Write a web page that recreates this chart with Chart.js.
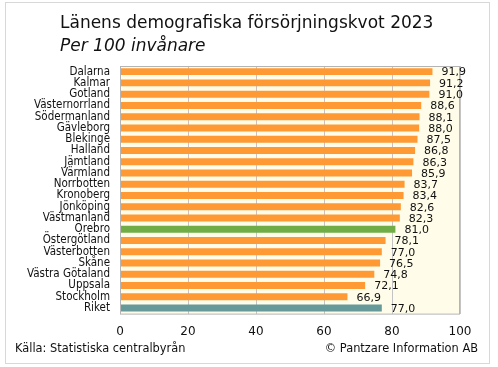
<!DOCTYPE html>
<html>
<head>
<meta charset="utf-8">
<script src="https://cdn.jsdelivr.net/npm/chart.js@4"></script>
<style>
    body { margin: 0; background: #fff; }
    #frame {
        position: absolute; left: 5px; top: 2px; width: 485px; height: 362px;
        border: 1px solid #d8d8d8; box-sizing: border-box;
    }
    .txt { position: absolute; font-family: "DejaVu Sans", Verdana, sans-serif; color: #111; white-space: nowrap; }
    #title { left: 60px; top: 12px; font-size: 17px; }
    #subtitle { left: 60px; top: 35px; font-size: 17px; font-style: italic; }
    #source { left: 15px; top: 341px; font-size: 11.4px; }
    #copy { right: 20px; top: 341px; font-size: 11.4px; }
    #wrap { position: absolute; left: 0; top: 0; width: 498px; height: 367px; }
</style>
</head>
<body>
<div id="frame"></div>
<div id="wrap"><canvas id="chart"></canvas></div>
<div class="txt" id="title">Länens demografiska försörjningskvot 2023</div>
<div class="txt" id="subtitle">Per 100 invånare</div>
<div class="txt" id="source">Källa: Statistiska centralbyrån</div>
<div class="txt" id="copy">© Pantzare Information AB</div>
<script>
// Chart data
const regions = ["Dalarna", "Kalmar", "Gotland", "Västernorrland", "Södermanland", "Gävleborg",
    "Blekinge", "Halland", "Jämtland", "Värmland", "Norrbotten", "Kronoberg", "Jönköping",
    "Västmanland", "Örebro", "Östergötland", "Västerbotten", "Skåne", "Västra Götaland",
    "Uppsala", "Stockholm", "Riket"];
const ratios = [91.9, 91.2, 91.0, 88.6, 88.1, 88.0, 87.5, 86.8, 86.3, 85.9, 83.7, 83.4, 82.6,
    82.3, 81.0, 78.1, 77.0, 76.5, 74.8, 72.1, 66.9, 77.0];
const xTicks = [0, 20, 40, 60, 80, 100];

const ORANGE = "#ff9933";
const GREEN = "#70ad47";
const TEAL = "#669999";

const barColors = regions.map(r => r === "Örebro" ? GREEN : r === "Riket" ? TEAL : ORANGE);

// Cream plot background + border
const plotBg = {
    id: "plotBg",
    beforeDraw(chart) {
        const { ctx, chartArea: a } = chart;
        ctx.save();
        ctx.fillStyle = "#fffde9";
        ctx.fillRect(a.left, a.top, a.right - a.left, a.bottom - a.top);
        ctx.restore();
    },
    afterDatasetsDraw(chart) {
        const { ctx, chartArea: a } = chart;
        ctx.save();
        ctx.strokeStyle = "#b4b4b4";
        ctx.lineWidth = 1;
        ctx.strokeRect(a.left + 0.5, a.top + 0.5, a.right - a.left - 1, a.bottom - a.top);
        ctx.restore();
    }
};

// Value labels after each bar, Swedish decimal comma
const valueLabels = {
    id: "valueLabels",
    afterDatasetsDraw(chart) {
        const { ctx } = chart;
        const meta = chart.getDatasetMeta(0);
        ctx.save();
        ctx.font = "11px 'DejaVu Sans', Verdana, sans-serif";
        ctx.fillStyle = "#111";
        ctx.textBaseline = "middle";
        ctx.textAlign = "left";
        meta.data.forEach((bar, i) => {
            ctx.fillText(ratios[i].toFixed(1).replace(".", ","), bar.x + 9, bar.y + 1);
        });
        ctx.restore();
    }
};

new Chart(document.getElementById("chart"), {
    type: "bar",
    data: {
        labels: regions,
        datasets: [{
            data: ratios,
            backgroundColor: barColors,
            barPercentage: 0.62,
            categoryPercentage: 1.0
        }]
    },
    options: {
        indexAxis: "y",
        responsive: true,
        maintainAspectRatio: false,
        animation: false,
        layout: { padding: { top: 66, right: 38, bottom: 17, left: 0 } },
        plugins: {
            legend: { display: false },
            tooltip: { enabled: false }
        },
        scales: {
            x: {
                min: 0,
                max: 100,
                afterBuildTicks: scale => { scale.ticks = xTicks.map(v => ({ value: v })); },
                ticks: {
                    color: "#111",
                    padding: 11,
                    font: { family: "'DejaVu Sans', Verdana, sans-serif", size: 12 }
                },
                grid: { color: "#c4c4c4", drawTicks: false },
                border: { display: false }
            },
            y: {
                afterFit: scale => { scale.width = 120; },
                ticks: {
                    color: "#111",
                    padding: 10,
                    autoSkip: false,
                    font: { family: "'DejaVu Sans Condensed', 'DejaVu Sans', sans-serif", size: 11.5 }
                },
                grid: { display: false, drawTicks: false },
                border: { display: false }
            }
        }
    },
    plugins: [plotBg, valueLabels]
});
</script>
</body>
</html>
